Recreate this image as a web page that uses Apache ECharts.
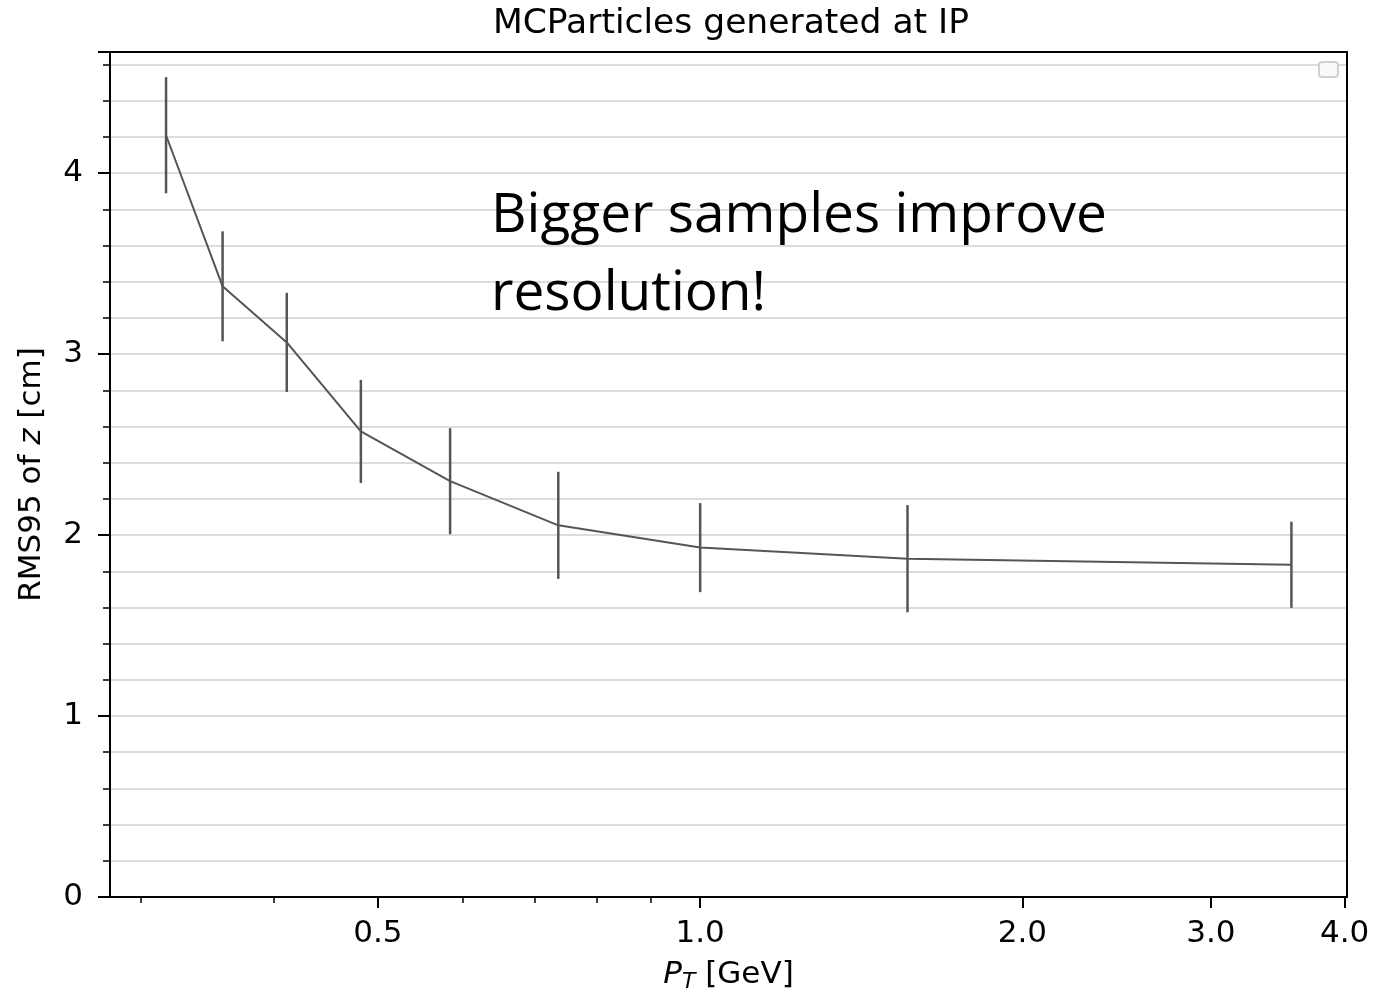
<!DOCTYPE html>
<html>
<head>
<meta charset="utf-8">
<title>MCParticles generated at IP</title>
<script src="https://cdn.jsdelivr.net/npm/echarts@6/dist/echarts.min.js"></script>
<style>
  html, body { margin: 0; padding: 0; background: #fff; }
  #chart { width: 1373px; height: 994px; }
</style>
</head>
<body>
<div id="chart"></div>
<script>
// pT bin centres [GeV], RMS95 of z [cm] and its error
const ptValues = [0.317, 0.358, 0.411, 0.482, 0.584, 0.737, 1.0, 1.562, 3.567]
const rmsValues = [4.21, 3.375, 3.065, 2.573, 2.298, 2.054, 1.931, 1.870, 1.836]
const rmsErrors = [0.321, 0.304, 0.274, 0.285, 0.293, 0.296, 0.246, 0.296, 0.238]

const xMajorTicks = [0.5, 1, 2, 3, 4]
const xMinorTicks = [0.3, 0.4, 0.6, 0.7, 0.8, 0.9]

const lineColor = '#555555'
const tickFont = 'DejaVu Sans'
const xMin = 0.281
const xMax = 4.02
const yMax = 4.67

const chart = echarts.init(document.getElementById('chart'))

const lineData = ptValues.map((pt, i) => [pt, rmsValues[i]])
const errorData = ptValues.map((pt, i) => [pt, rmsValues[i] - rmsErrors[i], rmsValues[i] + rmsErrors[i]])

const options = {
  animation: false,
  backgroundColor: '#fff',
  title: {
    text: 'MCParticles generated at IP',
    left: 726,
    textAlign: 'center',
    top: 2,
    textStyle: {
      fontFamily: tickFont,
      fontWeight: 'normal',
      fontSize: 34.5,
      color: '#000'
    }
  },
  grid: {
    left: 110,
    right: 26,
    top: 52,
    bottom: 97,
    containLabel: false,
    outerBoundsMode: 'none'
  },
  xAxis: [
    {
      type: 'log',
      min: xMin,
      max: xMax,
      position: 'bottom',
      name: '{i|P}{sub|T} [GeV]',
      nameLocation: 'middle',
      nameGap: 59,
      nameTextStyle: {
        fontFamily: tickFont,
        fontSize: 31,
        color: '#000',
        rich: {
          i: { fontFamily: tickFont, fontSize: 31, fontStyle: 'italic', color: '#000' },
          sub: { fontFamily: tickFont, fontSize: 22, fontStyle: 'italic', color: '#000', padding: [15, 0, 0, 0] }
        }
      },
      axisLine: { show: true, lineStyle: { color: '#000', width: 2 } },
      axisTick: { show: true, customValues: xMajorTicks, length: 11, lineStyle: { color: '#000', width: 2 } },
      axisLabel: {
        customValues: xMajorTicks,
        margin: 21,
        fontFamily: tickFont,
        fontSize: 31,
        color: '#000',
        formatter: v => Number(v).toFixed(1)
      },
      splitLine: { show: false }
    },
    {
      // minor ticks only
      type: 'log',
      min: xMin,
      max: xMax,
      position: 'bottom',
      axisLine: { show: false },
      axisTick: { show: true, customValues: xMinorTicks, length: 6, lineStyle: { color: '#000', width: 1.5 } },
      axisLabel: { show: false },
      splitLine: { show: false }
    },
    {
      // top spine
      type: 'log',
      min: xMin,
      max: xMax,
      position: 'top',
      axisLine: { show: true, lineStyle: { color: '#000', width: 2 } },
      axisTick: { show: false },
      axisLabel: { show: false },
      splitLine: { show: false }
    }
  ],
  yAxis: [
    {
      type: 'value',
      min: 0,
      max: yMax,
      interval: 1,
      position: 'left',
      name: 'RMS95 of {i|z} [cm]',
      nameLocation: 'middle',
      nameRotate: 90,
      nameGap: 63,
      nameTextStyle: {
        fontFamily: tickFont,
        fontSize: 31,
        color: '#000',
        rich: {
          i: { fontFamily: tickFont, fontSize: 31, fontStyle: 'italic', color: '#000' }
        }
      },
      axisLine: { show: true, lineStyle: { color: '#000', width: 2 } },
      axisTick: { show: true, length: 12, lineStyle: { color: '#000', width: 2 } },
      minorTick: { show: true, splitNumber: 5, length: 7, lineStyle: { color: '#000', width: 1.5 } },
      axisLabel: {
        margin: 27,
        fontFamily: tickFont,
        fontSize: 31,
        color: '#000',
        showMaxLabel: false
      },
      splitLine: { show: true, lineStyle: { color: '#dcdcdc', width: 2 } },
      minorSplitLine: { show: true, lineStyle: { color: '#dcdcdc', width: 2 } }
    },
    {
      // right spine
      type: 'value',
      min: 0,
      max: yMax,
      position: 'right',
      axisLine: { show: true, lineStyle: { color: '#000', width: 2 } },
      axisTick: { show: false },
      axisLabel: { show: false },
      splitLine: { show: false }
    }
  ],
  graphic: [
    {
      type: 'text',
      left: 491,
      top: 177,
      z: 100,
      style: {
        text: 'Bigger samples improve\nresolution!',
        fontFamily: 'Open Sans',
        fontSize: 55,
        lineHeight: 78,
        fill: '#000'
      }
    },
    {
      // empty legend box
      type: 'rect',
      left: 1318,
      top: 61,
      z: 100,
      shape: { width: 19, height: 15, r: 3 },
      style: { fill: '#fafafa', stroke: '#d0d0d0', lineWidth: 2 }
    }
  ],
  series: [
    {
      name: 'RMS95',
      type: 'line',
      data: lineData,
      showSymbol: false,
      symbol: 'none',
      lineStyle: { color: lineColor, width: 2 },
      z: 3
    },
    {
      name: 'error',
      type: 'custom',
      data: errorData,
      renderItem: function(params, api) {
        const low = api.coord([api.value(0), api.value(1)])
        const high = api.coord([api.value(0), api.value(2)])
        return {
          type: 'line',
          shape: { x1: low[0], y1: low[1], x2: high[0], y2: high[1] },
          style: { stroke: lineColor, lineWidth: 2.5 }
        }
      },
      z: 4
    }
  ]
}

chart.setOption(options)
window.addEventListener('resize', function() {
  chart.resize()
})
</script>
</body>
</html>
